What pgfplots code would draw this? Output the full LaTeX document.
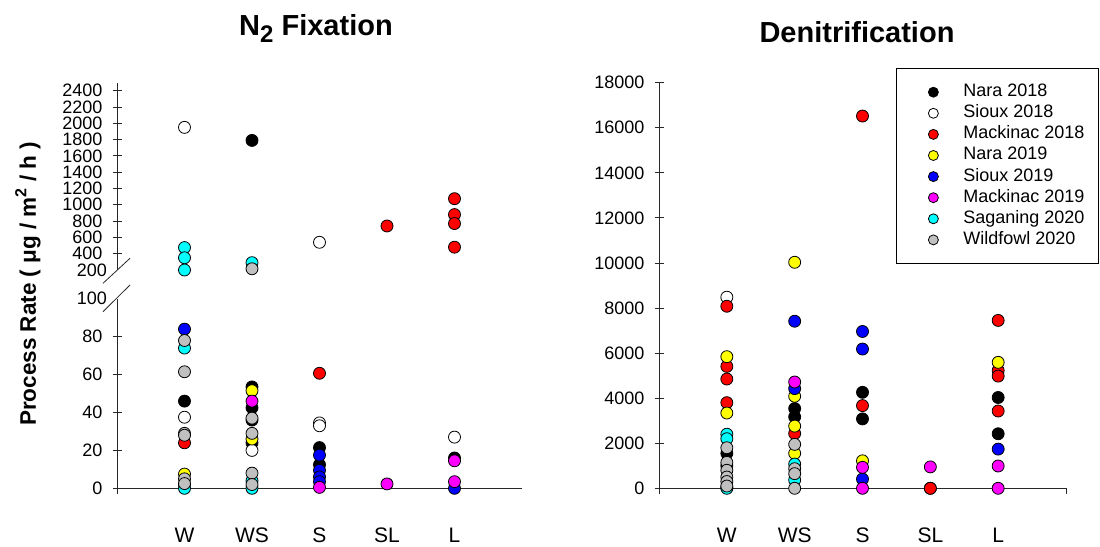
\documentclass[border=0pt]{standalone}
\usepackage{fontspec}
\setmainfont{Liberation Sans}
\usepackage{pgfplots}
\pgfplotsset{compat=1.18}
\definecolor{cRed}{RGB}{255,0,0}
\definecolor{cYel}{RGB}{255,255,0}
\definecolor{cBlue}{RGB}{0,0,255}
\definecolor{cMag}{RGB}{255,0,255}
\definecolor{cCyan}{RGB}{0,255,255}
\definecolor{cGray}{RGB}{192,192,192}
\definecolor{axc}{RGB}{40,40,40}
\pgfplotsset{
  mk/.style={only marks, mark=*, mark size=6pt, mark options={draw=black, fill=#1, line width=0.8pt}},
  base/.style={scale only axis, width=405pt, xmin=0, xmax=6, clip=false,
    /pgf/number format/assume math mode=true,
    scaled y ticks=false,
    /pgf/number format/.cd, fixed, 1000 sep={}, /pgfplots/.cd,
    tick label style={font=\fontsize{18}{18}\selectfont},
    yticklabel style={inner sep=0pt, xshift=-10pt},
    xticklabel style={font=\fontsize{21}{21}\selectfont, inner sep=0pt, anchor=north, yshift=-35pt},
    tick align=outside, major tick length=9pt,
    ytick style={axc, line width=0.9pt},
    xtick={1,2,3,4,5}, xticklabels={W,WS,S,SL,L},
    x tick style={draw=none},
  },
  noarrow/.style={axis line style={axc, line width=0.9pt, -},
    every outer x axis line/.append style={-},
    every outer y axis line/.append style={-}},
}
\begin{document}
\begin{tikzpicture}
% ---------- left, lower segment ----------
\begin{axis}[base, at={(117pt,57.7pt)}, anchor=south west, height=189.5pt,
  ymin=0, ymax=100, axis lines=left, noarrow,
  y axis line style={shorten <=-6pt},
  ytick={0,20,40,60,80}, extra y ticks={100}, extra y tick style={major tick length=0pt}]
\addplot[mk=black] coordinates {(1,46) (2,53.5) (2,42.5) (2,36) (2,24) (3,21.5) (3,12.5) (5,16)};
\addplot[mk=white] coordinates {(1,37.5) (2,20) (3,34.5) (3,33) (5,27)};
\addplot[mk=cRed] coordinates {(1,24) (3,60.7)};
\addplot[mk=cYel] coordinates {(1,7.5) (2,51.5) (2,26)};
\addplot[mk=cBlue] coordinates {(1,84) (3,17.5) (3,9.5) (3,6) (3,3.5) (5,0)};
\addplot[mk=cMag] coordinates {(2,46) (3,0.5) (4,2.3) (5,14.5) (5,3.5)};
\addplot[mk=cCyan] coordinates {(1,74) (1,2) (1,0) (2,4) (2,0)};
\addplot[mk=cGray] coordinates {(1,78) (1,61.5) (1,29) (1,28) (1,5) (1,2.5) (2,37) (2,29) (2,8) (2,2)};
\end{axis}
% ---------- left, upper segment ----------
\begin{axis}[base, at={(117pt,276pt)}, anchor=south west, height=186.7pt,
  ymin=200, ymax=2491, axis y line=left, axis x line=none, noarrow,
  ytick={400,600,...,2400}, extra y ticks={200}, extra y tick style={major tick length=0pt}]
\addplot[mk=black] coordinates {(2,1790)};
\addplot[mk=white] coordinates {(1,1950) (3,540)};
\addplot[mk=cRed] coordinates {(4,740) (5,1075) (5,880) (5,770) (5,480)};
\addplot[mk=cCyan] coordinates {(1,475) (1,350) (1,200) (2,290)};
\addplot[mk=cGray] coordinates {(2,215)};
\end{axis}
% break marks
\draw[axc, line width=0.8pt] (103pt,262.7pt) -- (130pt,287.7pt);
\draw[axc, line width=0.8pt] (103pt,234.3pt) -- (130pt,261pt);
% ---------- right ----------
\begin{axis}[base, width=407pt, at={(659pt,57.7pt)}, anchor=south west, height=405.6pt,
  ymin=0, ymax=18000, axis lines=left, noarrow,
  y axis line style={shorten <=-6pt},
  ytick={0,2000,...,18000},
  legend style={at={(axis description cs:0.582,1.037)}, anchor=north west,
    draw=black, line width=1pt, inner xsep=14pt, inner ysep=15.5pt,
    font=\fontsize{18}{18}\selectfont,
    nodes={inner sep=0pt, text height=13pt, text depth=4pt}, row sep=4.1pt},
  legend cell align=left,
  legend image code/.code={\path[draw=none] (-23pt,0pt) -- (30pt,0pt);
    \draw[#1, mark size=5pt] plot coordinates {(0pt,0pt)};}]
\addplot[mk=black] coordinates {(1,1550) (1,1000) (2,3540) (2,3170) (3,4260) (3,3080) (4,0) (5,4030) (5,2420)};
\addlegendentry{Nara 2018}
\addplot[mk=white] coordinates {(1,8480)};
\addlegendentry{Sioux 2018}
\addplot[mk=cRed] coordinates {(1,8080) (1,5410) (1,4850) (1,3800) (2,2430) (3,16520) (3,3670) (4,0) (5,7450) (5,5230) (5,4980) (5,3430)};
\addlegendentry{Mackinac 2018}
\addplot[mk=cYel] coordinates {(1,5840) (1,3340) (2,10030) (2,4085) (2,2760) (2,1550) (3,1220) (5,5590)};
\addlegendentry{Nara 2019}
\addplot[mk=cBlue] coordinates {(2,7415) (2,4425) (3,6960) (3,6180) (3,410) (5,1740)};
\addlegendentry{Sioux 2019}
\addplot[mk=cMag] coordinates {(2,4717) (3,930) (3,0) (4,950) (5,990) (5,0)};
\addlegendentry{Mackinac 2019}
\addplot[mk=cCyan] coordinates {(1,2400) (1,2200) (1,50) (1,0) (2,1075) (2,370)};
\addlegendentry{Saganing 2020}
\addplot[mk=cGray] coordinates {(1,1800) (1,1150) (1,800) (1,500) (1,300) (1,100) (2,1950) (2,870) (2,650) (2,0)};
\addlegendentry{Wildfowl 2020}
\draw[axc, line width=0.9pt] (axis cs:6,0) -- ++(0pt,-6pt);
\end{axis}
% titles and y label
\node[anchor=base, font=\bfseries\fontsize{29}{29}\selectfont] at (316pt,510pt)
  {N\raisebox{-0.22em}{\fontsize{24}{24}\selectfont 2} Fixation};
\node[anchor=base, font=\bfseries\fontsize{29}{29}\selectfont] at (857pt,503pt) {Denitrification};
\node[rotate=90, anchor=center, font=\bfseries\fontsize{22.5}{22.5}\selectfont] at (28pt,262pt)
  {Process Rate ( μg / m\raisebox{0.42em}{\fontsize{16}{16}\selectfont 2} / h )};
\pgfresetboundingbox
\useasboundingbox (0pt,0pt) rectangle (1100pt,546pt);
\end{tikzpicture}
\end{document}
